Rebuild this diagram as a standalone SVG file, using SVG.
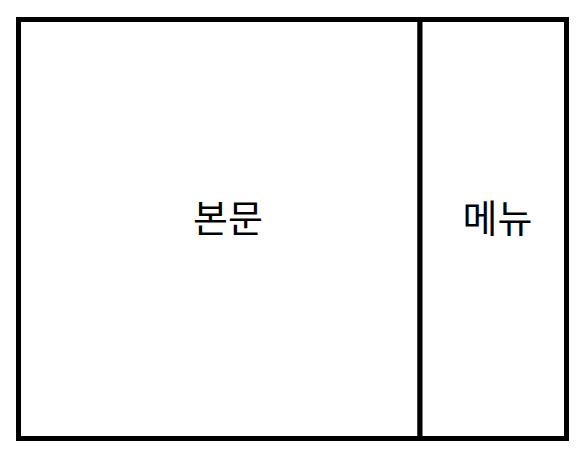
<svg xmlns="http://www.w3.org/2000/svg" width="584" height="469" viewBox="0 0 584 469">
<style>
.box{fill:#fff;stroke:#000;stroke-width:5}
.lbl{font-family:"Noto Sans CJK KR","Noto Sans",sans-serif;font-size:38px;fill:#000;text-anchor:middle}
</style>
<rect width="584" height="469" fill="#fff"/>
<g id="content">
<rect class="box" x="18.5" y="19.5" width="401.5" height="419"/>
<text class="lbl" x="228" y="232">본문</text>
</g>
<g id="menu">
<rect class="box" x="420" y="19.5" width="146.5" height="419"/>
<text class="lbl" x="497.5" y="232">메뉴</text>
</g>
<g id="connectors"></g>
</svg>
